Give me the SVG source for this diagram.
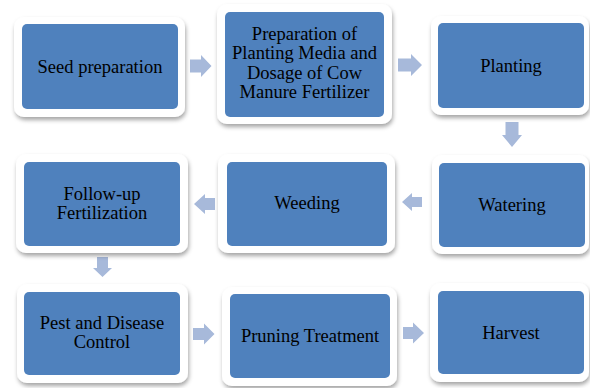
<svg xmlns="http://www.w3.org/2000/svg" width="590" height="388" viewBox="0 0 590 388">
<defs>
<filter id="sh" x="-10%" y="-10%" width="125%" height="130%">
<feDropShadow dx="1" dy="3" stdDeviation="2.2" flood-color="#000" flood-opacity="0.35"/>
</filter>
</defs>
<style>
.frame{fill:#fff;filter:url(#sh)}
.box{fill:#4F81BD}
.t{font-family:"Liberation Serif","Times New Roman",serif;font-size:18.5px;fill:#000;text-anchor:middle}
.arr{fill:#A7B9DA}
</style>
<rect width="590" height="388" fill="#fff"/>
<g id="connectors">
<path class="arr" d="M190,59.5 H201 V55 L211.5,66 L201,77 V72.5 H190 Z"/>
<path class="arr" d="M398,58.5 H411 V54 L422,65 L411,76 V71.5 H398 Z"/>
<path class="arr" d="M505.5,122 V135 H502 L512,147 L522,135 H518.5 V122 Z"/>
<path class="arr" d="M422,197 H412 V193 L402,202 L412,211 V207 H422 Z"/>
<path class="arr" d="M215,198 H205 V194 L194,204 L205,214 V210 H215 Z"/>
<path class="arr" d="M97,257 V268 H93 L102.5,277 L112,268 H108 V257 Z"/>
<path class="arr" d="M193,328 H204 V323.5 L214.5,334 L204,344.5 V340 H193 Z"/>
<path class="arr" d="M403,327 H413 V322.5 L424,333 L413,343.5 V339 H403 Z"/>
</g>
<g id="n1">
<rect class="frame" x="14" y="17" width="171" height="100" rx="10"/>
<rect class="box" x="22" y="24" width="156" height="85" rx="5"/>
<text class="t" x="100" y="72.5">Seed preparation</text>
</g>
<g id="n2">
<rect class="frame" x="217" y="4" width="175" height="120" rx="10"/>
<rect class="box" x="225" y="12" width="159" height="105" rx="5"/>
<text class="t" x="304.5" y="40">Preparation of</text>
<text class="t" x="304.5" y="59.3">Planting Media and</text>
<text class="t" x="304.5" y="78.6">Dosage of Cow</text>
<text class="t" x="304.5" y="97.9">Manure Fertilizer</text>
</g>
<g id="n3">
<rect class="frame" x="431" y="16" width="158" height="99" rx="10"/>
<rect class="box" x="438" y="23" width="146" height="85" rx="5"/>
<text class="t" x="511" y="71.5">Planting</text>
</g>
<g id="n4">
<rect class="frame" x="432" y="155" width="157" height="99" rx="10"/>
<rect class="box" x="439" y="163" width="146" height="84" rx="5"/>
<text class="t" x="512" y="210.5">Watering</text>
</g>
<g id="n5">
<rect class="frame" x="218" y="154" width="177" height="99" rx="10"/>
<rect class="box" x="227" y="162" width="160" height="84" rx="5"/>
<text class="t" x="307" y="209">Weeding</text>
</g>
<g id="n6">
<rect class="frame" x="16" y="154" width="172" height="99" rx="10"/>
<rect class="box" x="24" y="162" width="156" height="84" rx="5"/>
<text class="t" x="102" y="200">Follow-up</text>
<text class="t" x="102" y="218.8">Fertilization</text>
</g>
<g id="n7">
<rect class="frame" x="17" y="284" width="171" height="99" rx="10"/>
<rect class="box" x="24" y="292" width="156" height="83" rx="5"/>
<text class="t" x="102" y="328.5">Pest and Disease</text>
<text class="t" x="102" y="347.5">Control</text>
</g>
<g id="n8">
<rect class="frame" x="222" y="287" width="175" height="99" rx="10"/>
<rect class="box" x="230" y="294" width="160" height="84" rx="5"/>
<text class="t" x="310" y="342">Pruning Treatment</text>
</g>
<g id="n9">
<rect class="frame" x="430" y="283" width="159" height="99" rx="10"/>
<rect class="box" x="438" y="291" width="146" height="83" rx="5"/>
<text class="t" x="511" y="338.5">Harvest</text>
</g>
</svg>
